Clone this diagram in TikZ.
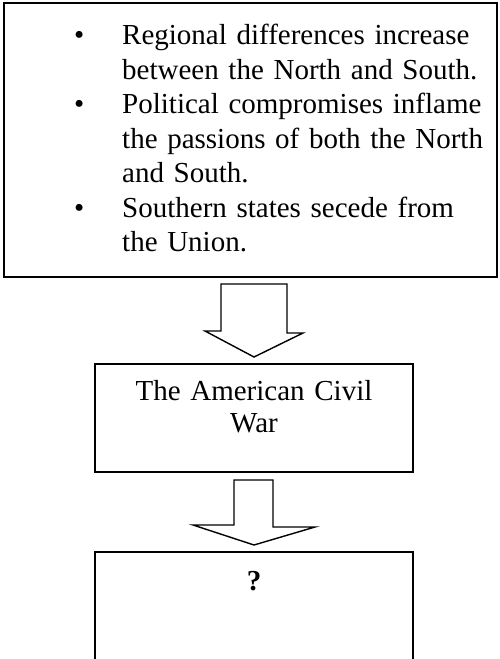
\documentclass[tikz,border=0pt]{standalone}
\usepackage{fontspec}
\setmainfont{Liberation Serif}
\usetikzlibrary{calc}

\begin{document}
\begin{tikzpicture}[x=1pt,y=-1pt,
    panel/.style={draw,line width=2pt,inner sep=0pt},
    blockarrow/.style={draw,fill=white,line width=1.4pt,line join=miter},
    body/.style={inner sep=0pt,font=\fontsize{29}{34.5}\selectfont}]
\useasboundingbox (0,0) rectangle (499,659);
\fill [white] (0,0) rectangle (499,659);
\clip (0,0) rectangle (499,659);
\node [panel,minimum width=493pt,minimum height=274pt] (causes) at (250.5,140) {};
\node [panel,minimum width=318pt,minimum height=108pt] (war) at (254,418) {};
\node [panel,minimum width=318pt,minimum height=148pt] (result) at (254,626) {};
\node [body,anchor=base west,text width=420pt,align=left] (points) at (74,44.7)
    {\makebox[48pt][l]{\textbullet}Regional differences increase\\
    \hspace*{48pt}between the North and South.\\
    \makebox[48pt][l]{\textbullet}Political compromises inflame\\
    \hspace*{48pt}the passions of both the North\\
    \hspace*{48pt}and South.\\
    \makebox[48pt][l]{\textbullet}Southern states secede from\\
    \hspace*{48pt}the Union.};
\node [body,anchor=base,text width=300pt,align=center,font=\fontsize{29}{32}\selectfont]
    (wartext) at (254,400) {The American Civil\\War};
\node [body,anchor=base,font=\fontsize{29}{34.5}\selectfont\bfseries] (mark) at (254,590) {?};
\draw [blockarrow] ($(war.north |- causes.south)+(-33,6)$) -- ++(66,0) -- ++(0,49)
    -- ++(16,0) -- ($(war.north)+(0,-6)$) -- ++(-49,-26) -- ++(16,0) -- cycle;
\draw [blockarrow] ($(war.south)+(-20,7)$) -- ++(39,0) -- ++(0,47)
    -- ++(42,0) -- ($(result.north)+(0,-6)$) -- ++(-61,-20) -- ++(41,0) -- cycle;
\end{tikzpicture}
\end{document}
